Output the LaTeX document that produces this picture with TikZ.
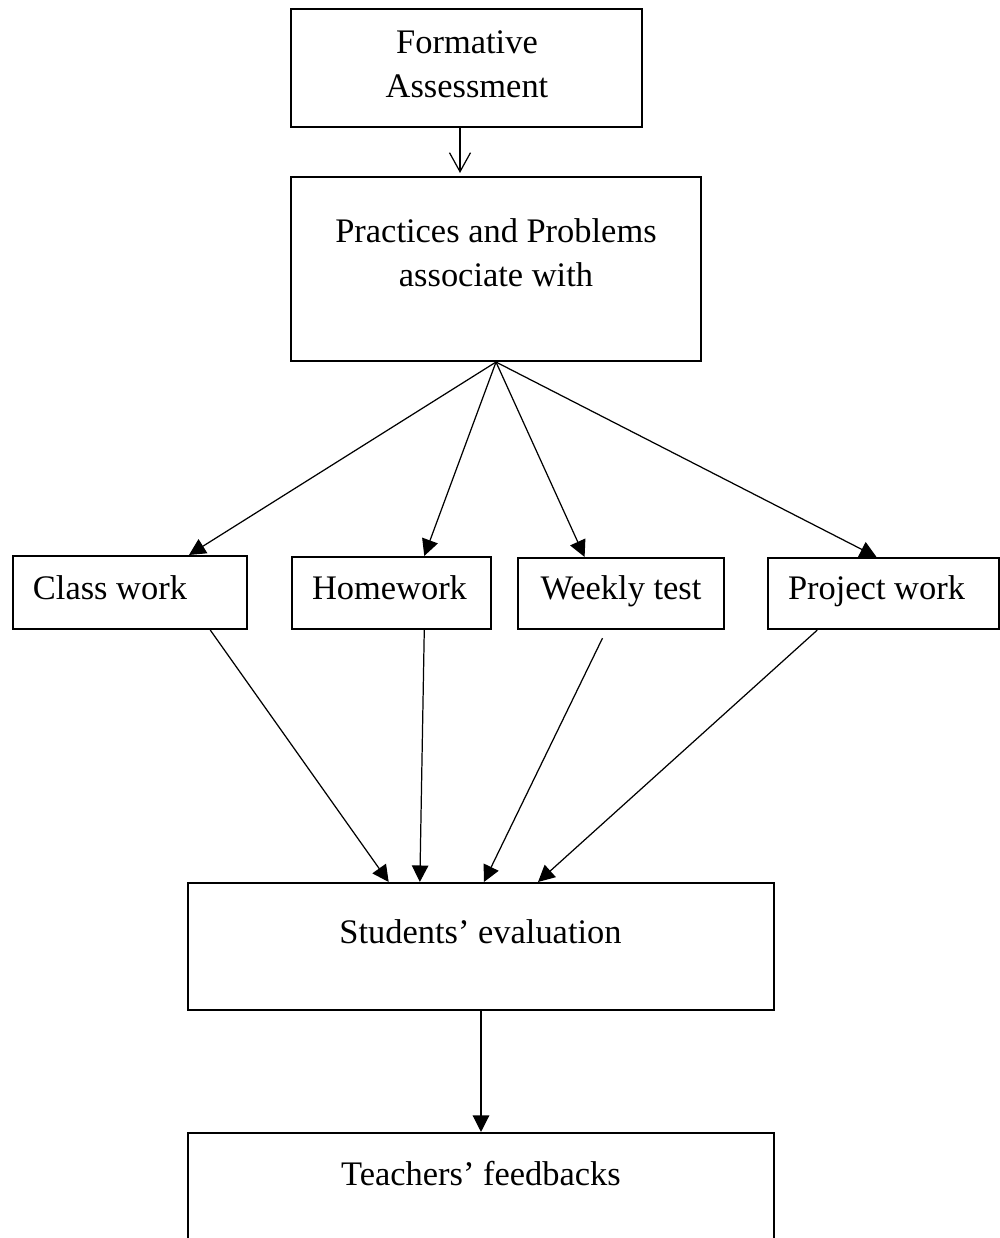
\documentclass[tikz,border=0pt]{standalone}
\usepackage{fontspec}
\setmainfont{Liberation Serif}
\usetikzlibrary{arrows.meta,calc}
\tikzset{
    box/.style={draw, line width=1.2pt, inner sep=0pt},
    lbl/.style={anchor=base, inner sep=0pt,
        font=\fontsize{19.6pt}{24.4pt}\selectfont},
    flow/.style={line width=0.7pt, -{Triangle[length=0.33cm, width=0.33cm]}},
    openflow/.style={line width=0.7pt, -{Straight Barb[length=0.38cm, width=0.42cm]}}
}

\begin{document}
\begin{tikzpicture}[x=0.02cm, y=-0.02cm]
    % Init
    \useasboundingbox (0,0) rectangle (1000,1238);
    % 1. def boxes
    \node[box, minimum width=7.02cm, minimum height=2.36cm] (fa) at (466.5,68) {};
    \node[box, minimum width=8.2cm, minimum height=3.68cm] (pp) at (496,269) {};
    \node[box, minimum width=4.68cm, minimum height=1.46cm] (cls) at (130,592.5) {};
    \node[box, minimum width=3.98cm, minimum height=1.44cm] (hw) at (391.5,593) {};
    \node[box, minimum width=4.12cm, minimum height=1.42cm] (wt) at (621,593.5) {};
    \node[box, minimum width=4.62cm, minimum height=1.42cm] (pw) at (883.5,593.5) {};
    \node[box, minimum width=11.72cm, minimum height=2.54cm] (se) at (481,946.5) {};
    \node[box, minimum width=11.72cm, minimum height=2.24cm] (tf) at (481,1189) {};
    % 2. def labels
    \node[lbl] (fa-1) at (467,53) {Formative};
    \node[lbl] (fa-2) at (467,97) {Assessment};
    \node[lbl] (pp-1) at (496,242) {Practices and Problems};
    \node[lbl] (pp-2) at (496,286) {associate with};
    \node[lbl] (cls-1) at (110,599) {Class work};
    \node[lbl] (hw-1) at (389.5,599) {Homework};
    \node[lbl] (wt-1) at (621,599) {Weekly test};
    \node[lbl] (pw-1) at (876.5,599) {Project work};
    \node[lbl] (se-1) at (480.5,943) {Students’ evaluation};
    \node[lbl] (tf-1) at (481,1185) {Teachers’ feedbacks};
    % 3. draw arrows
    \draw[openflow, shorten >=0.06cm] ([xshift=-0.13cm]fa.south)
        -- ([xshift=-0.13cm]fa.south |- pp.north);
    \foreach \b/\f in {cls/0.75, hw/0.663, wt/0.325, pw/0.47}
        \draw[flow] (pp.south) -- ($(\b.north west)!\f!(\b.north east)$);
    \foreach \b/\f/\t/\s in {cls/0.84/0.343/0, hw/0.663/0.396/0,
                            wt/0.43/0.505/0.18, pw/0.216/0.597/0}
        \draw[flow, shorten <=\s cm] ($(\b.south west)!\f!(\b.south east)$)
            -- ($(se.north west)!\t!(se.north east)$);
    \draw[flow] (se.south) -- (tf.north);
\end{tikzpicture}
\end{document}
